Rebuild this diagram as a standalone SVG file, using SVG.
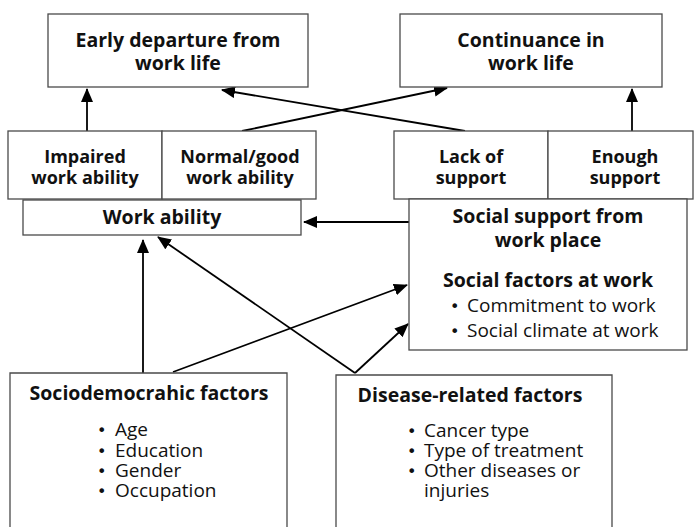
<svg xmlns="http://www.w3.org/2000/svg" width="694" height="527" viewBox="0 0 694 527">
<style>
.box{fill:#fff;stroke:#4a4a4a;stroke-width:1.3}
.t{font-family:"Open Sans","Noto Sans",sans-serif;fill:#111}
.b{font-weight:bold;font-size:19.5px;text-anchor:middle}
.s{font-size:18px}
.r{font-size:19px}
.d{font-family:"DejaVu Sans",sans-serif;font-size:16px}
.c{stroke:#000;stroke-width:1.8;fill:none}
</style>
<defs>
<marker id="ah" markerUnits="userSpaceOnUse" markerWidth="14" markerHeight="12" viewBox="0 0 14 12" refX="13" refY="6" orient="auto">
<path d="M0,0 L14,6 L0,12 Z" fill="#000"/>
</marker>
</defs>
<rect width="694" height="527" fill="#fff"/>
<g id="connectors">
<line class="c" x1="87" y1="131" x2="87" y2="89" marker-end="url(#ah)"/>
<line class="c" x1="632" y1="131" x2="632" y2="89" marker-end="url(#ah)"/>
<line class="c" x1="242" y1="131" x2="447" y2="88" marker-end="url(#ah)"/>
<line class="c" x1="465" y1="131" x2="222" y2="90" marker-end="url(#ah)"/>
<line class="c" x1="409" y1="222" x2="304" y2="222" marker-end="url(#ah)"/>
<line class="c" x1="143" y1="373" x2="143" y2="240" marker-end="url(#ah)"/>
<line class="c" x1="355" y1="373" x2="158" y2="237" marker-end="url(#ah)"/>
<line class="c" x1="355" y1="373" x2="408" y2="324" marker-end="url(#ah)"/>
<line class="c" x1="173" y1="372" x2="407" y2="285" marker-end="url(#ah)"/>
</g>
<g id="early">
<rect class="box" x="48" y="14" width="260" height="73"/>
<text class="t b" x="178" y="47">Early departure from</text>
<text class="t b" x="178" y="70">work life</text>
</g>
<g id="continuance">
<rect class="box" x="400" y="14" width="262" height="73"/>
<text class="t b" x="531" y="47">Continuance in</text>
<text class="t b" x="531" y="70">work life</text>
</g>
<g id="impaired">
<rect class="box" x="8" y="131" width="154" height="68"/>
<text class="t b s" x="85" y="163">Impaired</text>
<text class="t b s" x="85" y="184">work ability</text>
</g>
<g id="normal">
<rect class="box" x="162" y="131" width="154" height="68"/>
<text class="t b s" x="240" y="163">Normal/good</text>
<text class="t b s" x="240" y="184">work ability</text>
</g>
<g id="lack">
<rect class="box" x="394" y="131" width="154" height="68"/>
<text class="t b s" x="471" y="163">Lack of</text>
<text class="t b s" x="471" y="184">support</text>
</g>
<g id="enough">
<rect class="box" x="548" y="131" width="145" height="68"/>
<text class="t b s" x="625" y="163">Enough</text>
<text class="t b s" x="625" y="184">support</text>
</g>
<g id="workability">
<rect class="box" x="23" y="200" width="278" height="35"/>
<text class="t b" x="162" y="224">Work ability</text>
</g>
<g id="social">
<rect class="box" x="409" y="199" width="278" height="151"/>
<text class="t b" x="548" y="223">Social support from</text>
<text class="t b" x="548" y="247">work place</text>
<text class="t b" x="548" y="287">Social factors at work</text>
<text class="t r" y="312"><tspan class="d" x="450">•</tspan><tspan x="467">Commitment to work</tspan></text>
<text class="t r" y="337"><tspan class="d" x="450">•</tspan><tspan x="467">Social climate at work</tspan></text>
</g>
<g id="sociodemo">
<path class="box" d="M10,528 V373 H287 V528"/>
<text class="t b" x="149" y="400">Sociodemocrahic factors</text>
<text class="t r" y="436"><tspan class="d" x="97">•</tspan><tspan x="115">Age</tspan></text>
<text class="t r" y="457"><tspan class="d" x="97">•</tspan><tspan x="115">Education</tspan></text>
<text class="t r" y="477"><tspan class="d" x="97">•</tspan><tspan x="115">Gender</tspan></text>
<text class="t r" y="497"><tspan class="d" x="97">•</tspan><tspan x="115">Occupation</tspan></text>
</g>
<g id="disease">
<path class="box" d="M336,528 V375 H612 V528"/>
<text class="t b" x="470" y="402">Disease-related factors</text>
<text class="t r" y="437"><tspan class="d" x="407">•</tspan><tspan x="424">Cancer type</tspan></text>
<text class="t r" y="457"><tspan class="d" x="407">•</tspan><tspan x="424">Type of treatment</tspan></text>
<text class="t r" y="477"><tspan class="d" x="407">•</tspan><tspan x="424">Other diseases or</tspan></text>
<text class="t r" y="497"><tspan x="424">injuries</tspan></text>
</g>
</svg>
